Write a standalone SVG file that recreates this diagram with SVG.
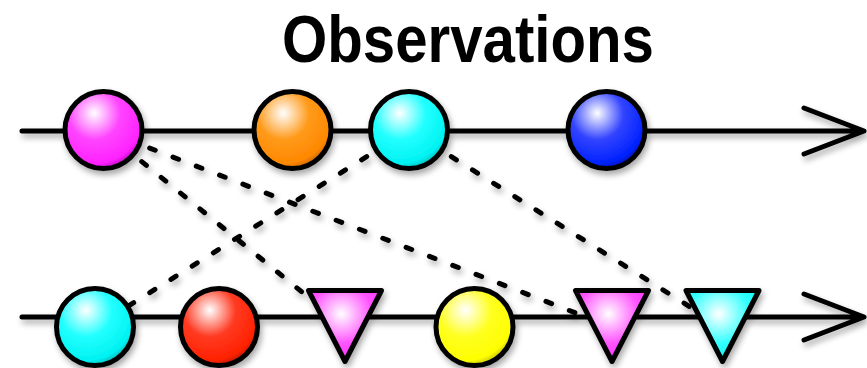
<svg xmlns="http://www.w3.org/2000/svg" width="867" height="368" viewBox="0 0 867 368">
<defs>
<filter id="sh" x="-10%" y="-10%" width="130%" height="140%">
<feGaussianBlur in="SourceAlpha" stdDeviation="3"/>
<feOffset dx="2" dy="4" result="b"/>
<feComponentTransfer><feFuncA type="linear" slope="0.35"/></feComponentTransfer>
<feMerge><feMergeNode/><feMergeNode in="SourceGraphic"/></feMerge>
</filter>
<radialGradient id="gM" cx="0.38" cy="0.3" r="0.75" fx="0.38" fy="0.28"><stop offset="0" stop-color="#ffffff"/><stop offset="0.45" stop-color="#ff44ff"/><stop offset="0.85" stop-color="#ff22ff"/><stop offset="1" stop-color="#b000b0"/></radialGradient>
<radialGradient id="gO" cx="0.38" cy="0.3" r="0.75" fx="0.38" fy="0.28"><stop offset="0" stop-color="#ffffff"/><stop offset="0.45" stop-color="#ff9a1a"/><stop offset="0.85" stop-color="#ff8800"/><stop offset="1" stop-color="#b85c00"/></radialGradient>
<radialGradient id="gC" cx="0.38" cy="0.3" r="0.75" fx="0.38" fy="0.28"><stop offset="0" stop-color="#ffffff"/><stop offset="0.45" stop-color="#22ffff"/><stop offset="0.85" stop-color="#00f2f2"/><stop offset="1" stop-color="#00a8a8"/></radialGradient>
<radialGradient id="gB" cx="0.38" cy="0.3" r="0.75" fx="0.38" fy="0.28"><stop offset="0" stop-color="#ffffff"/><stop offset="0.45" stop-color="#3344ff"/><stop offset="0.85" stop-color="#0022ff"/><stop offset="1" stop-color="#0010a0"/></radialGradient>
<radialGradient id="gR" cx="0.38" cy="0.3" r="0.75" fx="0.38" fy="0.28"><stop offset="0" stop-color="#ffffff"/><stop offset="0.45" stop-color="#ff3a22"/><stop offset="0.85" stop-color="#ff2200"/><stop offset="1" stop-color="#b01500"/></radialGradient>
<radialGradient id="gY" cx="0.38" cy="0.3" r="0.75" fx="0.38" fy="0.28"><stop offset="0" stop-color="#ffffff"/><stop offset="0.45" stop-color="#ffff22"/><stop offset="0.85" stop-color="#ffff00"/><stop offset="1" stop-color="#b0b000"/></radialGradient>
<radialGradient id="tM" cx="0.45" cy="0.33" r="0.75"><stop offset="0" stop-color="#ffffff"/><stop offset="0.55" stop-color="#ff55ff"/><stop offset="1" stop-color="#ff22ff"/></radialGradient>
<radialGradient id="tC" cx="0.45" cy="0.33" r="0.75"><stop offset="0" stop-color="#ffffff"/><stop offset="0.55" stop-color="#33ffff"/><stop offset="1" stop-color="#00f0f0"/></radialGradient>
</defs>
<style>
.ln{fill:none;stroke:#000;stroke-width:5;stroke-linecap:round;stroke-linejoin:round}
.dash{fill:none;stroke:#000;stroke-width:5;stroke-linecap:round;stroke-dasharray:6 19}
.sh{stroke:#000;stroke-width:5;stroke-linejoin:round}
.title{font-family:"Liberation Sans",Arial,sans-serif;font-weight:bold;font-size:66px;fill:#000}
</style>
<rect width="867" height="368" fill="#ffffff"/>
<text class="title" x="282" y="62" textLength="372" lengthAdjust="spacingAndGlyphs">Observations</text>
<g filter="url(#sh)">
<g id="connectors">
<path class="dash" d="M103 130 L345 327"/>
<path class="dash" d="M103 130 L612 327"/>
<path class="dash" d="M409 130 L95 327"/>
<path class="dash" d="M409 130 L722 327"/>
</g>
<g id="timelines">
<path class="ln" d="M22 131 H862 M804 108 L864 131 L804 154"/>
<path class="ln" d="M22 317 H862 M804 294 L864 317 L804 340"/>
</g>
<g id="top-magenta"><circle class="sh" cx="103.5" cy="130" r="38.5" fill="url(#gM)"/></g>
<g id="top-orange"><circle class="sh" cx="292.5" cy="130" r="38.5" fill="url(#gO)"/></g>
<g id="top-cyan"><circle class="sh" cx="409" cy="130" r="38.5" fill="url(#gC)"/></g>
<g id="top-blue"><circle class="sh" cx="606.5" cy="130" r="38.5" fill="url(#gB)"/></g>
<g id="bottom-cyan"><circle class="sh" cx="95" cy="327" r="38.5" fill="url(#gC)"/></g>
<g id="bottom-red"><circle class="sh" cx="219" cy="327" r="38.5" fill="url(#gR)"/></g>
<g id="bottom-magenta-tri1"><path class="sh" d="M308.5 290.5 H381.5 L345 361.5 Z" fill="url(#tM)"/></g>
<g id="bottom-yellow"><circle class="sh" cx="474.5" cy="327" r="38.5" fill="url(#gY)"/></g>
<g id="bottom-magenta-tri2"><path class="sh" d="M575.5 290.5 H648.5 L612 361.5 Z" fill="url(#tM)"/></g>
<g id="bottom-cyan-tri"><path class="sh" d="M686 290.5 H759 L722.5 361.5 Z" fill="url(#tC)"/></g>
</g>
</svg>
